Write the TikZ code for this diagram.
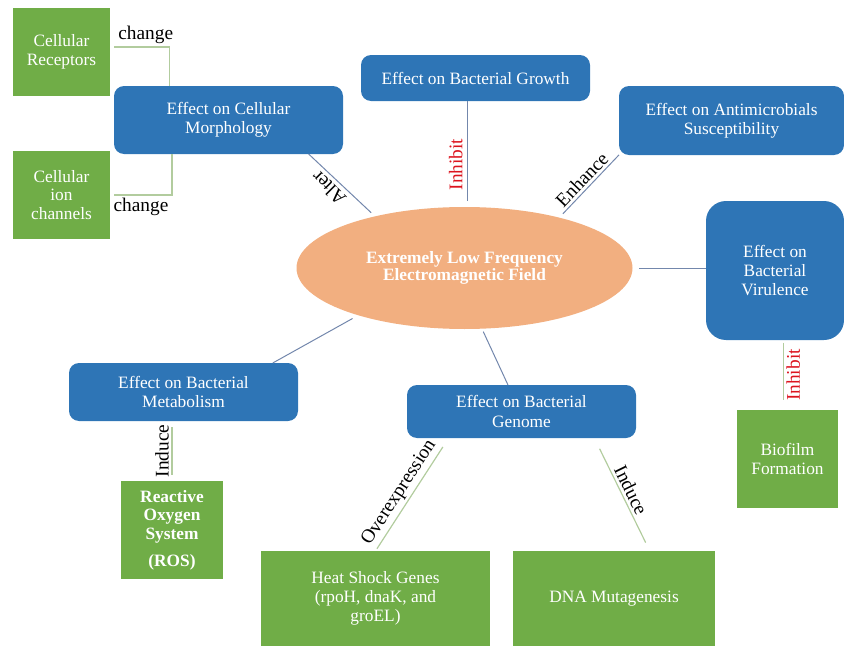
\documentclass[tikz,border=0pt]{standalone}
\usepackage{fontspec}
\setmainfont{Liberation Serif}
\usetikzlibrary{shapes.geometric}
\definecolor{effblue}{RGB}{46,117,182}
\definecolor{outgreen}{RGB}{112,173,71}
\definecolor{elforange}{RGB}{242,175,128}
\definecolor{linkblue}{RGB}{115,135,172}
\definecolor{linkgreen}{RGB}{178,204,158}
\definecolor{inhred}{RGB}{220,20,30}
\tikzset{
	effbox/.style={fill=effblue, rounded corners=7.5pt, text=white, align=center, inner sep=0pt, outer sep=0pt, font=\fontsize{13}{14.5}\selectfont},
	outbox/.style={fill=outgreen, text=white, align=center, inner sep=0pt, outer sep=0pt, font=\fontsize{13}{14}\selectfont},
	bline/.style={draw=linkblue, line width=0.75pt},
	gline/.style={draw=linkgreen, line width=0.9pt},
	verb/.style={font=\fontsize{14.5}{16}\selectfont, text=black, inner sep=2pt},
	redverb/.style={verb, text=inhred}
}
\begin{document}
\begin{tikzpicture}[x=0.75pt,y=-0.75pt]
	\useasboundingbox (0,0) rectangle (844,646);
	\node[ellipse, fill=elforange, minimum width=252pt, minimum height=91.5pt, inner sep=0pt, outer sep=0pt, text=white, align=center, font=\bfseries\fontsize{13}{13}\selectfont] (elf) at (464.5,268) {Extremely Low Frequency\\Electromagnetic Field};
	\node[effbox, minimum width=171.75pt, minimum height=51pt] (morph) at (228.5,120) {Effect on Cellular\\Morphology};
	\node[effbox, minimum width=171.75pt, minimum height=34.5pt] (growth) at (475.5,78) {Effect on Bacterial Growth};
	\node[effbox, minimum width=168.75pt, minimum height=51.75pt] (antimic) at (731.5,120.5) {Effect on Antimicrobials\\Susceptibility};
	\node[effbox, rounded corners=15pt, minimum width=103.5pt, minimum height=104.25pt] (viru) at (775,270.5) {Effect on\\Bacterial\\Virulence};
	\node[effbox, minimum width=171.75pt, minimum height=43.5pt] (metab) at (183.5,392) {Effect on Bacterial\\Metabolism};
	\node[effbox, minimum width=171.75pt, minimum height=39.75pt] (genome) at (521.5,411.5) {Effect on Bacterial\\Genome};
	\node[outbox, minimum width=72.75pt, minimum height=66pt] (recep) at (61.5,52) {Cellular\\Receptors};
	\node[outbox, minimum width=72.75pt, minimum height=66pt] (ionch) at (61.5,195) {Cellular\\ion\\channels};
	\node[outbox, minimum width=75.75pt, minimum height=73.5pt] (biofilm) at (787.5,459) {Biofilm\\Formation};
	\node[outbox, font=\bfseries\fontsize{13}{14}\selectfont, minimum width=76.5pt, minimum height=73.5pt] (ros) at (172,530) {Reactive\\Oxygen\\System\\[6pt](ROS)};
	\node[outbox, minimum width=171.75pt, minimum height=71.25pt] (heat) at (375.5,598.5) {Heat Shock Genes\\(rpoH, dnaK, and\\groEL)};
	\node[outbox, minimum width=151.5pt, minimum height=71.25pt] (dna) at (614,598.5) {DNA Mutagenesis};
	\draw[gline, shorten <=3pt] (recep.6) -| node[verb, pos=0.3, above] {change} (morph.150);
	\draw[gline, shorten >=3pt] (morph.211) |- node[verb, pos=0.75, below] {change} (ionch.east);
	\draw[bline, shorten >=4pt] (morph.-23) -- node[verb, pos=0.42, rotate=135, anchor=south, inner sep=3pt] {Alter} (elf.150);
	\draw[bline, shorten >=4.5pt] (growth.250) -- node[redverb, pos=0.6, rotate=90, anchor=south, inner sep=3pt] {Inhibit} (growth.250 |- elf.north);
	\draw[bline, shorten <=4pt] (elf.28) -- node[verb, midway, sloped, above] {Enhance} (antimic.197);
	\draw[bline, shorten <=5pt] (elf.east) -- (viru.west |- elf.east);
	\draw[gline, shorten <=2pt, shorten >=7.5pt] (biofilm.95 |- viru.south) -- node[redverb, midway, rotate=90, anchor=north] {Inhibit} (biofilm.95);
	\draw[bline, shorten <=5pt] (elf.204) -- (metab.18);
	\draw[gline, shorten <=4.5pt, shorten >=4.5pt] (ros.north |- metab.south) -- node[verb, midway, rotate=90, anchor=south] {Induce} (ros.north);
	\draw[bline, shorten <=2.5pt] (elf.-74) -- (genome.117);
	\draw[gline, shorten <=8pt, shorten >=2pt] (genome.200) -- node[verb, pos=0.54, sloped, above] {Overexpression} (heat.north);
	\draw[gline, shorten <=9pt, shorten >=7pt] (genome.-20) -- node[verb, midway, sloped, above] {Induce} (dna.53);
\end{tikzpicture}
\end{document}
